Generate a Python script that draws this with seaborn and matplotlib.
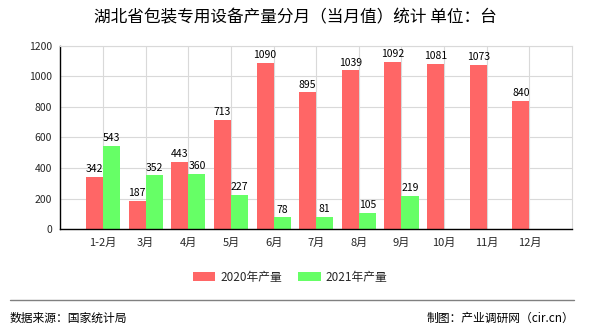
import numpy as np
import pandas as pd
import matplotlib
matplotlib.use("Agg")
import matplotlib.pyplot as plt
import seaborn as sns
from matplotlib.patches import Patch

months = ["1-2月", "3月", "4月", "5月", "6月", "7月", "8月", "9月", "10月", "11月", "12月"]
y2020 = [342, 187, 443, 713, 1090, 895, 1039, 1092, 1081, 1073, 840]
y2021 = [543, 352, 360, 227, 78, 81, 105, 219, np.nan, np.nan, np.nan]
series = ["2020年产量", "2021年产量"]
colors = ["#FF6666", "#66FF66"]
yticks = [0, 200, 400, 600, 800, 1000, 1200]

sns.set_theme(style="white")
plt.rcParams["font.family"] = ["Noto Sans CJK SC", "DejaVu Sans"]

df = pd.DataFrame({
    "月份": months * 2,
    "产量": y2020 + y2021,
    "系列": [series[0]] * len(months) + [series[1]] * len(months),
})

fig = plt.figure(figsize=(5.9, 3.3), dpi=100)
ax = fig.add_axes([0.1025, 0.3052, 0.9695 - 0.1025, 0.8615 - 0.3052])

sns.barplot(data=df, x="月份", y="产量", hue="系列", order=months, hue_order=series,
            palette=colors, saturation=1, width=0.8, ax=ax, legend=False, zorder=2,
            linewidth=0, edgecolor="none")

for cont in ax.containers:
    labels = ["" if np.isnan(b.get_height()) else f"{int(round(b.get_height()))}" for b in cont]
    ax.bar_label(cont, labels=labels, fontsize=7.5, padding=2, color="#000000")

ax.set_xlim(-1, 11)
ax.set_ylim(0, 1200)
ax.set_yticks(yticks)
ax.set_yticklabels([str(v) for v in yticks], fontsize=7.5)
ax.set_xticks(range(len(months)))
ax.set_xticklabels(months, fontsize=8)
ax.set_xlabel("")
ax.set_ylabel("")
ax.grid(True, axis="both", color="#D9D9D9", linewidth=0.8, zorder=0)
ax.set_axisbelow(True)
for s in ["top", "right"]:
    ax.spines[s].set_color("#D9D9D9")
    ax.spines[s].set_linewidth(0.8)
for s in ["left", "bottom"]:
    ax.spines[s].set_color("#000000")
    ax.spines[s].set_linewidth(1.0)
ax.tick_params(axis="both", direction="out", length=4, width=1, color="#000000", pad=2)

fig.text(0.5, 1 - 18 / 330, "湖北省包装专用设备产量分月（当月值）统计 单位：台",
         ha="center", va="center", fontsize=12, color="#000000")

handles = [Patch(facecolor=c, edgecolor="none") for c in colors]
fig.legend(handles, series, loc="center", bbox_to_anchor=(290 / 590, 1 - 277 / 330),
           ncol=2, frameon=False, fontsize=8.5, handlelength=1.9, handleheight=0.9,
           columnspacing=1.4, handletextpad=0.4)

fig.add_artist(plt.Line2D([10 / 590, 574 / 590], [1 - 299.5 / 330] * 2,
                          color="#808080", linewidth=1.0))
fig.text(10 / 590, 1 - 318 / 330, "数据来源：国家统计局", ha="left", va="center",
         fontsize=8.5, color="#000000")
fig.text(574 / 590, 1 - 318 / 330, "制图：产业调研网（cir.cn）", ha="right", va="center",
         fontsize=8.5, color="#000000")

fig.savefig("out.png", dpi=100)
